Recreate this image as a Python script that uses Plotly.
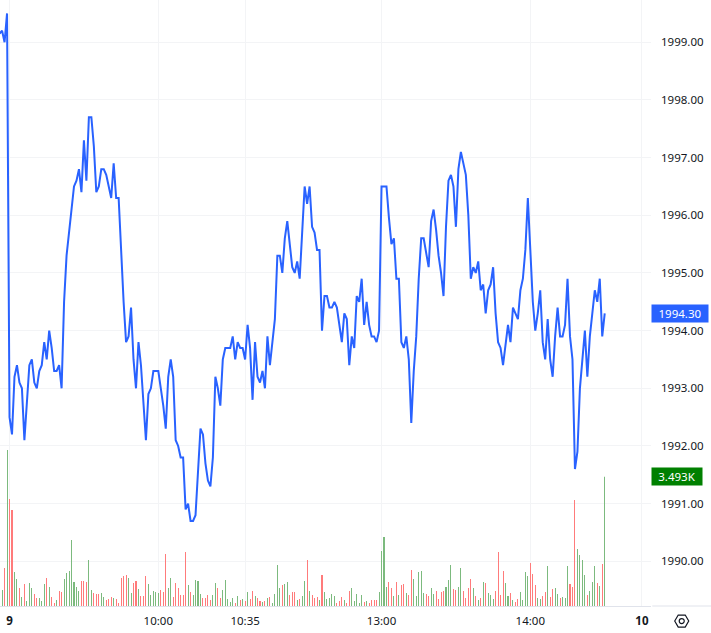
import plotly.graph_objects as go

# -----------------------------
# Values
# -----------------------------
PRICE = [
    1999.15, 1999.2, 1999.0, 1999.5, 1992.5, 1992.2, 1993.2, 1993.4, 1993.1, 1993.0,
    1992.1, 1992.7, 1993.4, 1993.5, 1993.1, 1993.0, 1993.3, 1993.4, 1993.8, 1993.5,
    1994.0, 1993.7, 1993.3, 1993.3, 1993.4, 1993.0, 1994.5, 1995.3, 1995.7, 1996.2,
    1996.5, 1996.6, 1996.8, 1996.4, 1997.3, 1996.6, 1997.7, 1997.7, 1997.2, 1996.4,
    1996.5, 1996.8, 1996.8, 1996.7, 1996.5, 1996.3, 1996.9, 1996.3, 1996.3, 1995.3,
    1994.5, 1993.8, 1993.9, 1994.4, 1993.5, 1993.0, 1993.8, 1993.4, 1992.7, 1992.1,
    1992.9, 1993.0, 1993.3, 1993.3, 1993.3, 1993.0, 1992.7, 1992.3, 1993.2, 1993.5,
    1993.2, 1992.1, 1992.0, 1991.8, 1991.8, 1990.9, 1991.0, 1990.7, 1990.7, 1990.8,
    1991.6, 1992.3, 1992.2, 1991.7, 1991.4, 1991.3, 1991.8, 1993.2, 1993.0, 1992.7,
    1993.5, 1993.7, 1993.7, 1993.7, 1993.9, 1993.5, 1993.8, 1993.7, 1993.7, 1993.5,
    1994.1, 1993.7, 1992.8, 1993.8, 1993.2, 1993.1, 1993.3, 1993.0, 1993.9, 1993.4,
    1993.8, 1994.2, 1995.3, 1995.3, 1995.0, 1995.6, 1995.9, 1995.5, 1995.1, 1995.0,
    1995.2, 1994.9, 1995.7, 1996.5, 1996.2, 1996.5, 1995.8, 1995.7, 1995.4, 1995.4,
    1994.0, 1994.6, 1994.6, 1994.4, 1994.4, 1994.5, 1994.4, 1994.05, 1993.8, 1994.3,
    1994.2, 1993.4, 1993.9, 1993.7, 1994.6, 1994.5, 1994.9, 1994.1, 1994.5, 1994.1,
    1993.9, 1993.9, 1993.8, 1994.0, 1996.5, 1996.5, 1996.5, 1995.95, 1995.5, 1995.6,
    1994.9, 1994.9, 1993.8, 1993.7, 1993.9, 1993.5, 1992.4, 1993.3, 1993.9, 1994.9,
    1995.6, 1995.6, 1995.35, 1995.1, 1995.9, 1996.1, 1995.75, 1995.3, 1995.0, 1994.6,
    1995.8, 1996.6, 1996.7, 1996.5, 1995.8, 1996.8, 1997.1, 1996.9, 1996.7, 1996.0,
    1994.9, 1995.1, 1995.0, 1995.2, 1994.7, 1994.8, 1994.3, 1994.7, 1994.8, 1995.1,
    1994.3, 1993.8, 1993.7, 1993.4, 1993.75, 1994.1, 1993.8, 1994.4, 1994.3, 1994.2,
    1994.7, 1994.9, 1995.4, 1996.3, 1995.4, 1994.5, 1994.0, 1994.3, 1994.7, 1993.8,
    1993.5, 1994.2, 1993.5, 1993.2, 1993.9, 1994.4, 1993.9, 1993.9, 1994.1, 1994.9,
    1993.9, 1993.5, 1991.6, 1991.9, 1993.0, 1993.5, 1994.0, 1993.2, 1993.9, 1994.3,
    1994.7, 1994.5, 1994.9, 1993.9, 1994.3,
]

VOLUME = [
    270, 432, 1026, 4212, 2889, 2592, 918, 729, 486, 243,
    594, 135, 621, 486, 324, 216, 216, 135, 594, 756,
    513, 243, 81, 162, 405, 378, 729, 891, 945, 1782,
    648, 513, 405, 675, 675, 648, 1242, 432, 351, 324,
    324, 351, 243, 162, 189, 243, 216, 189, 81, 756,
    810, 837, 756, 351, 621, 675, 459, 270, 270, 810,
    594, 297, 405, 378, 351, 432, 378, 1404, 486, 756,
    243, 621, 486, 297, 297, 1458, 567, 378, 297, 702,
    675, 324, 216, 216, 297, 162, 297, 621, 486, 216,
    432, 702, 189, 108, 216, 81, 270, 162, 189, 135,
    378, 189, 405, 270, 216, 135, 108, 135, 216, 243,
    81, 324, 1107, 486, 567, 594, 648, 297, 378, 378,
    162, 189, 270, 675, 1242, 405, 297, 216, 243, 162,
    837, 378, 189, 216, 324, 270, 81, 135, 243, 162,
    81, 405, 486, 135, 324, 81, 297, 108, 135, 81,
    162, 162, 162, 378, 1485, 1863, 513, 648, 486, 270,
    648, 297, 567, 594, 351, 297, 972, 729, 270, 918,
    945, 351, 324, 270, 486, 324, 405, 189, 378, 405,
    513, 702, 1107, 459, 432, 513, 1026, 405, 216, 486,
    729, 486, 270, 162, 216, 648, 621, 351, 297, 189,
    405, 1458, 297, 945, 621, 270, 351, 162, 108, 189,
    378, 162, 918, 810, 1161, 864, 567, 216, 189, 270,
    378, 1080, 243, 459, 486, 324, 216, 243, 216, 1080,
    594, 513, 2862, 1539, 1377, 1242, 837, 297, 405, 648,
    1080, 621, 540, 1134, 3493,
]

# G = up bar, R = down bar
VOLUME_SIDE = (
    "GGRGRRGGRG" "RGGGRRGGGR" "GRRGRRGGGG" "GGGRRRGGRR" "RGGRRRGRRR"
    "RRGGRRGRRR" "GGGGGRRRGG" "RRRRRRGRGG" "GGRRRRGGRR" "GGGGGRGRGR"
    "GRRGRRGRGR" "GGGGRGGRRR" "GRGGRGRRRG" "RGGGGGRRRG" "RRGGGGGRGR"
    "RRRGGGGRRG" "RGRRGRRGGG" "GGRRGGRRRR" "GGGRRGGRRR" "RGRGRGRGGG"
    "RRRRGGRGRR" "GGGGRRRGGR" "RGRRGGRGGG" "RRRGGGGRGG" "GRGRG"
)

TICK_POS = [4, 64, 99, 154, 214, 259]
TICK_LABELS = ["<b>9</b>", "10:00", "10:35", "13:00", "14:00", "<b>10</b>"]
PRICE_TICKS = [1990, 1991, 1992, 1993, 1994, 1995, 1996, 1997, 1998, 1999]
LAST_PRICE = 1994.30
LAST_VOLUME = 3493

LINE_BLUE = "#2962ff"
UP_GREEN = "#7cba7e"
DOWN_RED = "#ff7b7b"
GRID = "#f3f4f6"
TEXT = "#131722"
FONT = "Noto Sans"

bar_index = list(range(len(PRICE)))
bar_colors = [UP_GREEN if s == "G" else DOWN_RED for s in VOLUME_SIDE]

fig = go.Figure()
fig.add_trace(go.Scatter(
    x=bar_index, y=PRICE, mode="lines", yaxis="y",
    line=dict(color=LINE_BLUE, width=2, shape="linear"),
))
# plotly widens thin bars out to whole pixels, so a tiny width gives 1px bars
fig.add_trace(go.Bar(
    x=bar_index, y=VOLUME, yaxis="y2",
    marker=dict(color=bar_colors, line=dict(width=0)),
    width=0.02,
))

fig.update_layout(
    width=711,
    height=633,
    margin=dict(l=0, r=60, t=0, b=27),
    paper_bgcolor="white",
    plot_bgcolor="white",
    showlegend=False,
    font=dict(family=FONT, size=12, color=TEXT),
    xaxis=dict(
        range=[0.16, 262.66],
        tickmode="array", tickvals=TICK_POS, ticktext=TICK_LABELS,
        showgrid=True, gridcolor=GRID, gridwidth=1, zeroline=False,
        showline=True, linecolor="#e0e3eb", linewidth=1,
        ticks="", ticklabelstandoff=4,
        tickfont=dict(family=FONT, size=11.5, color=TEXT),
    ),
    yaxis=dict(
        range=[1989.225, 1999.733], side="right",
        tickmode="array", tickvals=PRICE_TICKS, tickformat=".2f",
        showgrid=True, gridcolor=GRID, gridwidth=1, zeroline=False,
        ticks="", ticklabelstandoff=9,
        tickfont=dict(family=FONT, size=11.5, color=TEXT),
    ),
    yaxis2=dict(
        range=[0, 16362], overlaying="y", visible=False, showgrid=False,
    ),
    shapes=[
        # bottom rule under the price scale
        dict(type="line", xref="paper", yref="paper", x0=1.002, x1=1.093, y0=0, y1=0,
             line=dict(color="#e0e3eb", width=1)),
        # settings icon
        dict(type="path", xref="paper", yref="paper", xsizemode="pixel", ysizemode="pixel",
             xanchor=1.0472, yanchor=-0.0248,
             path="M -7 0 L -3.5 6 L 3.5 6 L 7 0 L 3.5 -6 L -3.5 -6 Z",
             line=dict(color=TEXT, width=1.2), fillcolor="white"),
        dict(type="circle", xref="paper", yref="paper", xsizemode="pixel", ysizemode="pixel",
             xanchor=1.0472, yanchor=-0.0248, x0=-2.5, x1=2.5, y0=-2.5, y1=2.5,
             line=dict(color=TEXT, width=1.2), fillcolor="white"),
    ],
    annotations=[
        dict(text=f"{LAST_PRICE:.2f}", xref="paper", yref="y", x=1, y=LAST_PRICE,
             xanchor="left", yanchor="middle", xshift=0, width=56, height=17,
             showarrow=False, bgcolor=LINE_BLUE, align="center", borderpad=0,
             font=dict(family=FONT, size=11.5, color="white")),
        dict(text=f"{LAST_VOLUME / 1000:.3f}K", xref="paper", yref="y2", x=1, y=LAST_VOLUME,
             xanchor="left", yanchor="middle", xshift=0, width=50, height=17,
             showarrow=False, bgcolor="#008000", align="center", borderpad=0,
             font=dict(family=FONT, size=11.5, color="white")),
    ],
)

fig.write_html("out.html", config=dict(displayModeBar=False),
               post_script="document.body.style.margin='0';")
